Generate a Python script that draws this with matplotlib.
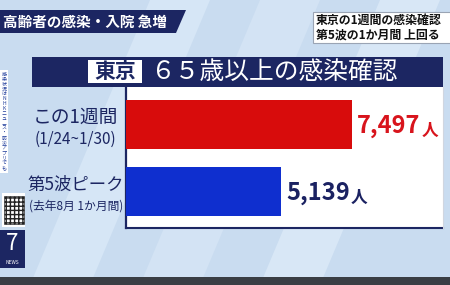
import matplotlib.pyplot as plt
import matplotlib.patches as patches
import matplotlib.transforms as mtransforms

plt.rcParams['font.family'] = ['Noto Sans CJK JP', 'DejaVu Sans']

# data
categories = ['この1週間', '第5波ピーク']
periods = ['(1/24~1/30)', '(去年8月 1か月間)']
values = [7497, 5139]
bar_colors = ['#d80c0c', '#0f2fcf']
value_colors = ['#d8141c', '#1b2262']

navy = '#1c2662'

fig = plt.figure(figsize=(4.5, 2.85), dpi=100)
fig.patch.set_facecolor('#c9dcf0')

# background layer in pixel coords
bg = fig.add_axes([0, 0, 1, 1])
bg.set_xlim(0, 450)
bg.set_ylim(285, 0)
bg.axis('off')

# soft diagonal streaks in background
for x0, c in [(150, '#d6e6f6'), (260, '#d3e3f4'), (380, '#d8e7f6')]:
    bg.add_patch(patches.Polygon([(x0, 0), (x0 + 60, 0), (x0 - 60, 285), (x0 - 120, 285)],
                                 closed=True, color=c, lw=0, zorder=0))

# top-left banner
bg.add_patch(patches.Polygon([(0, 10), (186, 10), (176, 33), (0, 33)], closed=True,
                             color=navy, lw=0, zorder=1))
bg.text(3, 21.5, '高齢者の感染・入院 急増', color='white', fontsize=10.5,
        fontweight='bold', va='center', ha='left', zorder=2)

# top-right caption box
bg.add_patch(patches.Rectangle((313, 12), 140, 31, facecolor='white',
                               edgecolor='#9aa4b4', lw=0.8, zorder=1))
bg.text(316, 20, '東京の1週間の感染確認', color='#111111', fontsize=8.6,
        fontweight='bold', va='center', ha='left', zorder=2)
bg.text(316, 35, '第5波の1か月間 上回る', color='#111111', fontsize=8.6,
        fontweight='bold', va='center', ha='left', zorder=2)

# chart title bar
bg.add_patch(patches.Rectangle((32, 57), 411, 30, color=navy, lw=0, zorder=1))
bg.add_patch(patches.Rectangle((88, 60), 54, 23, color='white', lw=0, zorder=2))
bg.text(115, 71.5, '東京', color=navy, fontsize=15, fontweight='bold',
        va='center', ha='center', zorder=3)
bg.text(150, 71.5, '６５歳以上の感染確認', color='white', fontsize=17.8,
        va='center', ha='left', zorder=3)

# white plot panel
bg.add_patch(patches.Rectangle((126, 87), 317, 141, facecolor='white',
                               edgecolor='none', zorder=1))
bg.plot([126, 443], [228, 228], color=navy, lw=1.5, zorder=2)
bg.plot([443, 443], [87, 228], color='#d0d6e0', lw=0.8, zorder=2)

# left vertical strip
bg.add_patch(patches.Rectangle((0, 70), 8, 103, color='white', lw=0, zorder=1))
bg.text(4, 121, '\n'.join('感染状況はNHKニュース・防災アプリでも'), color='#1c3a9a',
        fontsize=3.6, linespacing=0.98, va='center', ha='center', zorder=2)
bg.add_patch(patches.Rectangle((2, 193), 23, 34, facecolor='white', edgecolor='none',
                               zorder=1))
bg.add_patch(patches.Rectangle((3.5, 196), 20, 28, facecolor='white', edgecolor='#222222',
                               hatch='++++', lw=0.5, zorder=2))
bg.add_patch(patches.Rectangle((0, 230), 25, 38, color=navy, lw=0, zorder=1))
bg.text(12, 244, '7', color='white', fontsize=16, style='italic', va='center',
        ha='center', zorder=2)
bg.text(12, 262, 'NEWS', color='white', fontsize=3.5, va='center', ha='center', zorder=2)

# bottom dark strip
bg.add_patch(patches.Rectangle((0, 277), 450, 8, color='#3a3e44', lw=0, zorder=1))

# bar chart
ax = fig.add_axes([126 / 450, (285 - 228) / 285, 317 / 450, 141 / 285])
ax.patch.set_alpha(0)
ypos = list(range(len(values)))
ax.barh(ypos, values, height=0.74, color=bar_colors, zorder=3)
ax.set_xlim(0, 10515)
ax.set_ylim(1.55, -0.56)
ax.set_xticks([])
ax.set_yticks([])
for s in ['top', 'right', 'bottom']:
    ax.spines[s].set_visible(False)
ax.spines['left'].set_color(navy)
ax.spines['left'].set_linewidth(1.6)

trans = mtransforms.blended_transform_factory(ax.transAxes, ax.transData)
cat_sizes = [13.5, 12.5]
per_sizes = [11, 8.5]
for i, (cat, per) in enumerate(zip(categories, periods)):
    ax.text(-0.158, i - 0.1, cat, transform=trans, color=navy, fontsize=cat_sizes[i],
            ha='center', va='center', clip_on=False)
    ax.text(-0.158, i + 0.22, per, transform=trans, color=navy, fontsize=per_sizes[i],
            ha='center', va='center', clip_on=False)

fig.canvas.draw()
renderer = fig.canvas.get_renderer()
for i, v in enumerate(values):
    t = ax.text(v + 170, i + 0.03, f'{v:,}', color=value_colors[i], fontsize=17,
                fontweight='bold', ha='left', va='center', zorder=4)
    bb = t.get_window_extent(renderer)
    x_end = ax.transData.inverted().transform((bb.x1 + 1, 0))[0]
    ax.text(x_end, i + 0.1, '人', color=value_colors[i], fontsize=12,
            fontweight='bold', ha='left', va='center', zorder=4)

fig.savefig('out.png', dpi=100, facecolor=fig.get_facecolor())
